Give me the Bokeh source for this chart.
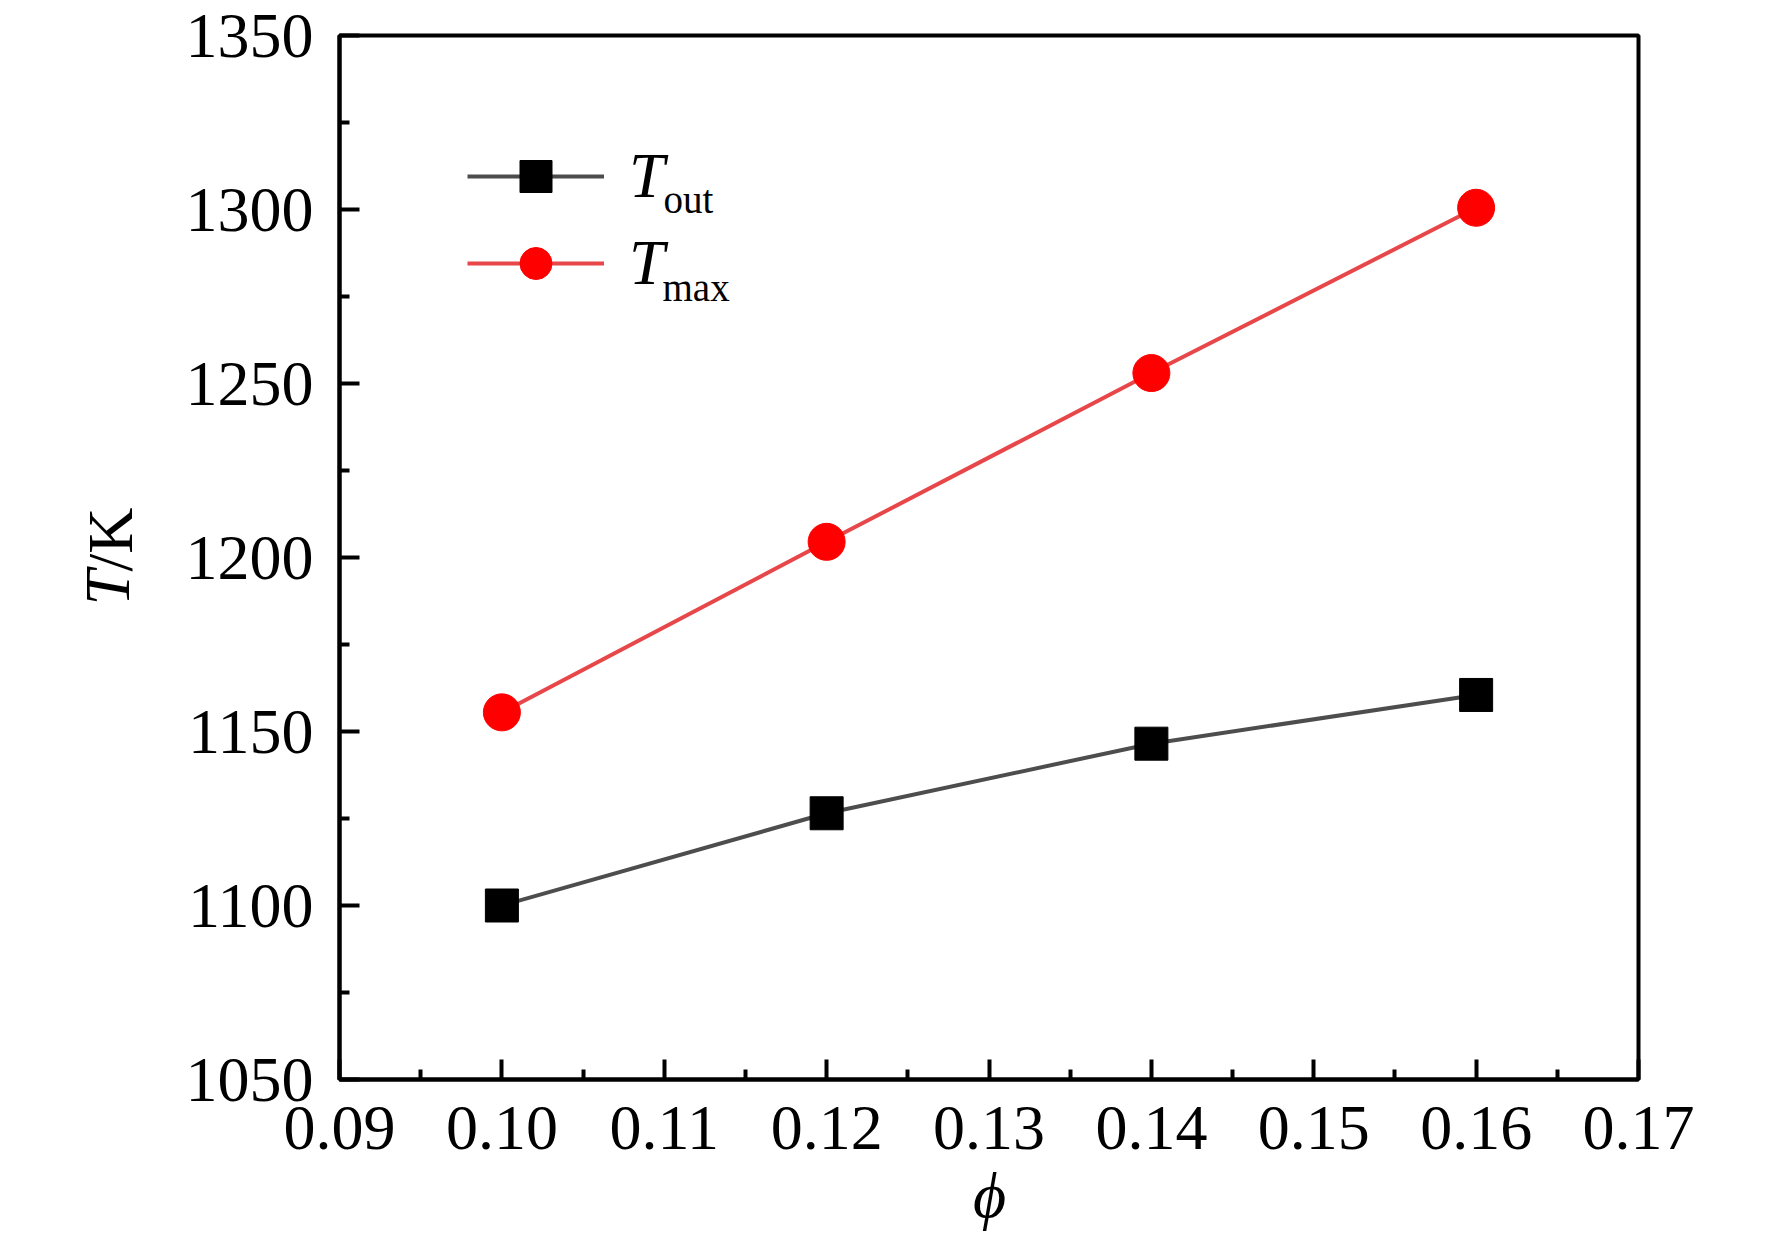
import math
from bokeh.plotting import figure
from bokeh.models import (Range1d, FixedTicker, Legend, LegendItem, Label,
                          PrintfTickFormatter)
from bokeh.embed import file_html
from bokeh.resources import INLINE

# ---- data ----
phi = [0.10, 0.12, 0.14, 0.16]
t_out = [1100.0, 1126.5, 1146.5, 1160.5]
t_max = [1155.5, 1204.5, 1253.0, 1300.5]

x_ticks = [0.09, 0.10, 0.11, 0.12, 0.13, 0.14, 0.15, 0.16, 0.17]
x_minor = [0.095, 0.105, 0.115, 0.125, 0.135, 0.145, 0.155, 0.165]
y_ticks = [1050, 1100, 1150, 1200, 1250, 1300, 1350]
y_minor = [1075, 1125, 1175, 1225, 1275, 1325]

FONT = "Liberation Serif"
W, H = 1756, 1235

p = figure(width=W, height=H, output_backend="svg", toolbar_location=None,
           x_range=Range1d(0.09, 0.17), y_range=Range1d(1050, 1350),
           min_border_left=339, min_border_right=118,
           min_border_top=35, min_border_bottom=156)
p.background_fill_color = "white"
p.border_fill_color = "white"
p.xgrid.grid_line_color = None
p.ygrid.grid_line_color = None
p.outline_line_color = "black"
p.outline_line_width = 4
p.outline_line_alpha = 1.0

p.xaxis.ticker = FixedTicker(ticks=x_ticks, minor_ticks=x_minor)
p.yaxis.ticker = FixedTicker(ticks=y_ticks, minor_ticks=y_minor)
p.xaxis.formatter = PrintfTickFormatter(format="%.2f")
p.yaxis.formatter = PrintfTickFormatter(format="%d")

for ax in (p.xaxis[0], p.yaxis[0]):
    ax.axis_line_width = 4
    ax.axis_line_color = "black"
    ax.major_tick_line_width = 4
    ax.minor_tick_line_width = 4
    ax.major_tick_line_color = "black"
    ax.minor_tick_line_color = "black"
    ax.major_tick_in = 20
    ax.major_tick_out = 0
    ax.minor_tick_in = 10
    ax.minor_tick_out = 0
    ax.major_label_text_font = FONT
    ax.major_label_text_font_size = "64px"
    ax.major_label_text_color = "black"
p.yaxis.major_label_standoff = 26
p.xaxis.major_label_standoff = 27

# ---- series ----
l_out = p.line(phi, t_out, line_color="#4d4d4d", line_width=4)
s_out = p.scatter(phi, t_out, marker="square", size=33,
                  fill_color="black", line_color="black", line_width=1)
l_max = p.line(phi, t_max, line_color="#e8474a", line_width=4)
s_max = p.scatter(phi, t_max, marker="circle", size=37,
                  fill_color="#ff0000", line_color="#ff0000", line_width=1)

legend = Legend(items=[LegendItem(label="T", renderers=[l_out, s_out]),
                       LegendItem(label="T", renderers=[l_max, s_max])],
                location=(128, 776), orientation="vertical",
                glyph_width=137, glyph_height=80, label_height=80,
                label_standoff=25, spacing=7, padding=0, margin=0,
                border_line_alpha=0, background_fill_alpha=0,
                label_text_font=FONT, label_text_font_size="64px",
                label_text_font_style="italic", label_text_color="black")
p.add_layout(legend, "center")

# subscripts of legend entries
p.add_layout(Label(x=324, y=880, x_units="screen", y_units="screen", text="out",
                   text_font=FONT, text_font_size="39px", text_color="black",
                   text_baseline="alphabetic", text_align="left"))
p.add_layout(Label(x=323, y=792, x_units="screen", y_units="screen", text="max",
                   text_font=FONT, text_font_size="39px", text_color="black",
                   text_baseline="alphabetic", text_align="left"))

# axis titles (placed in the side panels so that they are not clipped)
p.add_layout(Label(x=-4, y=474, x_units="screen", y_units="screen", text="T",
                   angle=math.pi / 2, text_font=FONT, text_font_size="64px",
                   text_font_style="italic", text_color="black",
                   text_baseline="alphabetic", text_align="left"), "left")
p.add_layout(Label(x=70, y=508, x_units="screen", y_units="screen", text="/K",
                   angle=math.pi / 2, text_font=FONT, text_font_size="64px",
                   text_color="black", text_baseline="alphabetic",
                   text_align="left"), "left")
p.add_layout(Label(x=650, y=27, x_units="screen", y_units="screen", text="\u03d5",
                   text_font=FONT, text_font_size="64px", text_font_style="italic",
                   text_color="black", text_baseline="alphabetic",
                   text_align="center"), "below")

open("out.html", "w").write(file_html(p, INLINE))
